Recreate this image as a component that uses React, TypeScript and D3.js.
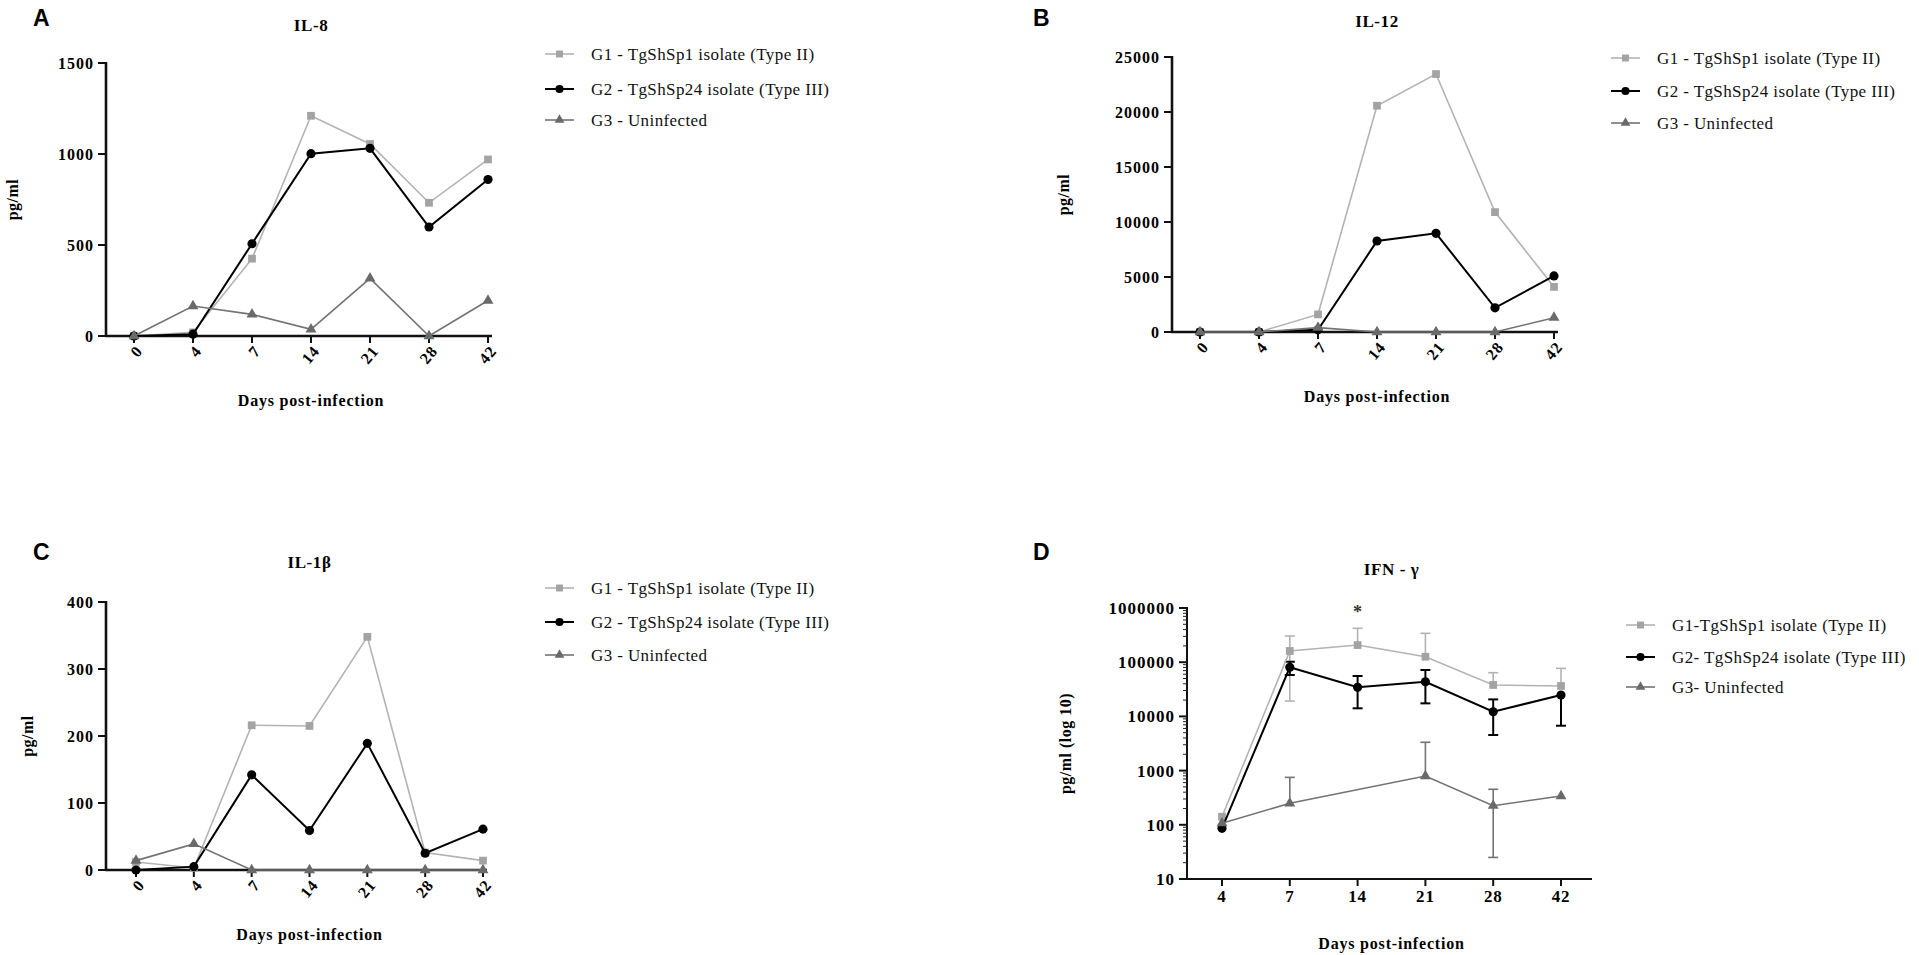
import * as d3 from 'd3'

// ---- data ----
const days = ['0', '4', '7', '14', '21', '28', '42']
const daysD = ['4', '7', '14', '21', '28', '42']

// A: IL-8 (pg/ml)
const il8G1 = [0, 20, 425, 1210, 1055, 732, 970]
const il8G2 = [0, 10, 507, 1002, 1031, 599, 860]
const il8G3 = [0, 165, 119, 37, 317, 0, 195]
const il8Ticks = [0, 500, 1000, 1500]

// B: IL-12 (pg/ml)
const il12G1 = [0, 0, 1600, 20570, 23450, 10900, 4100]
const il12G2 = [0, 0, 200, 8270, 8970, 2200, 5100]
const il12G3 = [0, 0, 400, 0, 0, 0, 1300]
const il12Ticks = [0, 5000, 10000, 15000, 20000, 25000]

// C: IL-1b (pg/ml)
const il1bG1 = [12, 3, 216, 215, 348, 26, 14]
const il1bG2 = [0, 5, 142, 59, 189, 25, 61]
const il1bG3 = [14, 39, 0, 0, 0, 0, 0]
const il1bTicks = [0, 100, 200, 300, 400]

// D: IFN-g (pg/ml, log10), mean with upper / lower error bar ends
const ifnG1 = [141, 161000, 207000, 126000, 38000, 36400]
const ifnG1Up = [141, 304000, 422000, 341000, 64000, 77000]
const ifnG1Lo = [141, 19200, 207000, 126000, 38000, 36400]
const ifnG2 = [86, 80600, 34400, 43600, 12200, 24800]
const ifnG2Up = [86, 102000, 55600, 71800, 20600, 24800]
const ifnG2Lo = [86, 58000, 14100, 17400, 4540, 6730]
const ifnG3 = [107, 250, null, 795, 225, 340]
const ifnG3Up = [107, 750, null, 3330, 452, 340]
const ifnG3Lo = [107, 250, null, 795, 25, 340]
const ifnTicks = [10, 100, 1000, 10000, 100000, 1000000]

const legendA = ['G1 - TgShSp1 isolate (Type II)', 'G2 - TgShSp24 isolate (Type III)', 'G3 - Uninfected']
const legendD = ['G1-TgShSp1 isolate (Type II)', 'G2- TgShSp24 isolate (Type III)', 'G3- Uninfected']

// ---- styling ----
const serif = '"Liberation Serif", "Times New Roman", serif'
const sans = '"Liberation Sans", Arial, sans-serif'
const groupStyle = [
  { line: '#b3b3b3', fill: '#a3a3a3', width: 1.6, sym: d3.symbolSquare, size: 60 },
  { line: '#000000', fill: '#000000', width: 2, sym: d3.symbolCircle, size: 66 },
  { line: '#737373', fill: '#6a6a6a', width: 1.6, sym: d3.symbolTriangle, size: 52 },
]

type Series = { vals: (number | null)[], up?: (number | null)[], lo?: (number | null)[] }

type PanelProps = {
  letter: string, letterX: number, letterY: number, ox: number, title: string, titleY: number,
  cats: string[], xFirst: number, xLast: number, xEnd: number,
  yTop: number, yBottom: number, ticks: number[], log?: boolean,
  series: Series[], legend: string[], legendY: number[], ylabel: string, ylabelDx: number,
  rotate: boolean, star?: string
}

const Panel = (p: PanelProps) => {
  const x = d3.scalePoint<string>().domain(p.cats).range([p.xFirst, p.xLast])
  const y = p.log
    ? d3.scaleLog().domain([p.ticks[0], p.ticks[p.ticks.length - 1]]).range([p.yBottom, p.yTop])
    : d3.scaleLinear().domain([p.ticks[0], p.ticks[p.ticks.length - 1]]).range([p.yBottom, p.yTop])
  const axisW = p.log ? 2 : 2.6
  const mid = (p.xFirst + p.xLast) / 2

  // missing values are skipped, the line joins the neighbours
  const line = d3.line<[string, number]>()
    .x(d => x(d[0]) as number)
    .y(d => y(d[1]))

  const minor: number[] = []
  if (p.log) {
    for (let i = 0; i < p.ticks.length - 1; i++)
      for (let k = 2; k < 10; k++) minor.push(p.ticks[i] * k)
  }

  const lx = p.ox + 439

  return (
    <g>
      <text x={p.letterX} y={p.letterY} fontFamily={sans} fontWeight="bold" fontSize={23}>{p.letter}</text>
      <text x={mid} y={p.titleY} textAnchor="middle" fontFamily={serif} fontWeight="bold" fontSize={17}
        letterSpacing={0.6}>{p.title}</text>

      {/* y axis */}
      <line x1={p.ox} x2={p.ox} y1={p.yTop - 1} y2={p.yBottom} stroke="#111" strokeWidth={axisW} />
      {minor.map(v => (
        <line key={'m' + v} x1={p.ox - 4} x2={p.ox} y1={y(v)} y2={y(v)} stroke="#222" strokeWidth={1} />
      ))}
      {p.ticks.map(v => (
        <g key={'y' + v}>
          <line x1={p.ox - 8} x2={p.ox} y1={y(v)} y2={y(v)} stroke="#111" strokeWidth={2} />
          <text x={p.ox - 12} y={y(v)} dy="0.35em" textAnchor="end" fontFamily={serif} fontWeight="bold"
            fontSize={p.log ? 17 : 16} letterSpacing={1}>{String(v)}</text>
        </g>
      ))}
      <text transform={`translate(${p.ox + p.ylabelDx},${(p.yTop + p.yBottom) / 2}) rotate(-90)`}
        textAnchor="middle" dy="0.35em" fontFamily={serif} fontWeight="bold" fontSize={16} letterSpacing={0.5}>
        {p.ylabel}
      </text>

      {/* x axis */}
      <line x1={p.ox - 1} x2={p.xEnd} y1={p.yBottom} y2={p.yBottom} stroke="#111" strokeWidth={axisW} />
      {p.cats.map(c => (
        <g key={'x' + c}>
          <line x1={x(c)} x2={x(c)} y1={p.yBottom} y2={p.yBottom + 7} stroke="#111" strokeWidth={2} />
          {p.rotate
            ? <text transform={`translate(${(x(c) as number) + 5},${p.yBottom + 12}) rotate(-50)`} textAnchor="end"
              dy="0.35em" fontFamily={serif} fontWeight="bold" fontSize={16} letterSpacing={0.8}>{c}</text>
            : <text x={x(c)} y={p.yBottom + 23} textAnchor="middle" fontFamily={serif} fontWeight="bold"
              fontSize={17} letterSpacing={0.8}>{c}</text>}
        </g>
      ))}
      <text x={mid} y={p.yBottom + 70} textAnchor="middle" fontFamily={serif} fontWeight="bold" fontSize={16}
        letterSpacing={0.8}>Days post-infection</text>

      {/* error bars */}
      {p.series.map((s, si) => s.up ? p.cats.map((c, i) => {
        const v = s.vals[i]
        if (v === null) return null
        const u = s.up![i] as number
        const l = s.lo![i] as number
        const cx = x(c) as number
        const st = groupStyle[si]
        return (
          <g key={'e' + si + c} stroke={st.line} strokeWidth={si === 1 ? 2 : 1.6}>
            {u > v && <line x1={cx} x2={cx} y1={y(v)} y2={y(u)} />}
            {u > v && <line x1={cx - 5} x2={cx + 5} y1={y(u)} y2={y(u)} />}
            {l < v && <line x1={cx} x2={cx} y1={y(v)} y2={y(l)} />}
            {l < v && <line x1={cx - 5} x2={cx + 5} y1={y(l)} y2={y(l)} />}
          </g>
        )
      }) : null)}

      {/* lines and markers */}
      {p.series.map((s, si) => {
        const st = groupStyle[si]
        const pts = p.cats
          .map((c, i) => [c, s.vals[i]] as [string, number | null])
          .filter(d => d[1] !== null) as [string, number][]
        const sym = d3.symbol().type(st.sym).size(st.size)()
        return (
          <g key={'s' + si}>
            <path d={line(pts) ?? ''} fill="none" stroke={st.line} strokeWidth={st.width} />
            {pts.map(d => (
              <path key={d[0]} d={sym ?? ''} fill={st.fill}
                transform={`translate(${x(d[0])},${y(d[1])})`} />
            ))}
          </g>
        )
      })}

      {p.star && (
        <text x={x(p.star)} y={y(ifnG1Up[daysD.indexOf(p.star)] as number) - 10} textAnchor="middle"
          fontFamily={serif} fontWeight="bold" fontSize={18} fill="#333">*</text>
      )}

      {/* legend */}
      {p.legend.map((t, i) => {
        const st = groupStyle[i]
        const sym = d3.symbol().type(st.sym).size(st.size * 0.8)()
        const ly = p.legendY[i]
        return (
          <g key={'l' + i}>
            <line x1={lx} x2={lx + 29} y1={ly} y2={ly} stroke={st.line} strokeWidth={st.width} />
            <path d={sym ?? ''} fill={st.fill} transform={`translate(${lx + 14.5},${ly})`} />
            <text x={lx + 46} y={ly} dy="0.35em" fontFamily={serif} fontSize={17} letterSpacing={0.4}
              fill="#111">{t}</text>
          </g>
        )
      })}
    </g>
  )
}

export default function App() {
  return (
    <div style={{ position: 'absolute', left: 0, top: 0 }}>
      <svg width={1919} height={955} style={{ display: 'block', background: '#fff' }}>
        <Panel letter="A" letterX={33} letterY={26} ox={106} title="IL-8" titleY={31} cats={days}
          xFirst={134} xLast={488} xEnd={492} yTop={63} yBottom={336} ticks={il8Ticks}
          series={[{ vals: il8G1 }, { vals: il8G2 }, { vals: il8G3 }]}
          legend={legendA} legendY={[54, 89, 120]} ylabel="pg/ml" ylabelDx={-94} rotate />
        <Panel letter="B" letterX={1033} letterY={26} ox={1172} title="IL-12" titleY={27} cats={days}
          xFirst={1200} xLast={1554} xEnd={1558} yTop={57} yBottom={332} ticks={il12Ticks}
          series={[{ vals: il12G1 }, { vals: il12G2 }, { vals: il12G3 }]}
          legend={legendA} legendY={[58, 91, 123]} ylabel="pg/ml" ylabelDx={-109} rotate />
        <Panel letter="C" letterX={33} letterY={560} ox={106} title="IL-1β" titleY={568} cats={days}
          xFirst={136} xLast={483} xEnd={487} yTop={602} yBottom={870} ticks={il1bTicks}
          series={[{ vals: il1bG1 }, { vals: il1bG2 }, { vals: il1bG3 }]}
          legend={legendA} legendY={[588, 622, 655]} ylabel="pg/ml" ylabelDx={-79} rotate />
        <Panel letter="D" letterX={1033} letterY={560} ox={1187} title="IFN - γ" titleY={575} cats={daysD}
          xFirst={1222} xLast={1561} xEnd={1592} yTop={608} yBottom={879} ticks={ifnTicks} log
          series={[
            { vals: ifnG1, up: ifnG1Up, lo: ifnG1Lo },
            { vals: ifnG2, up: ifnG2Up, lo: ifnG2Lo },
            { vals: ifnG3, up: ifnG3Up, lo: ifnG3Lo },
          ]}
          legend={legendD} legendY={[625, 657, 687]} ylabel="pg/ml (log 10)" ylabelDx={-122}
          rotate={false} star="14" />
      </svg>
    </div>
  )
}
